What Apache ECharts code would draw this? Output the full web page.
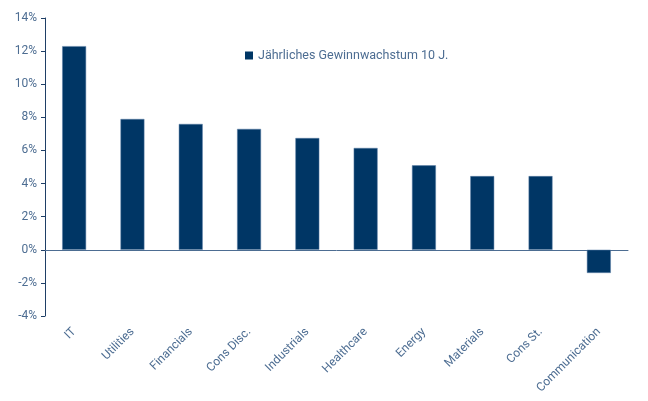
<!DOCTYPE html>
<html>
<head>
<meta charset="utf-8">
<script src="https://cdn.jsdelivr.net/npm/echarts@6/dist/echarts.min.js"></script>
<style>html,body{margin:0;padding:0;background:#fff}#c{width:648px;height:401px}</style>
</head>
<body>
<div id="c"></div>
<script>
var categories = ['IT','Utilities','Financials','Cons Disc.','Industrials','Healthcare','Energy','Materials','Cons St.','Communication'];
var growth = [12.3, 7.9, 7.6, 7.3, 6.75, 6.15, 5.1, 4.45, 4.45, -1.4];
var seriesName = 'Jährliches Gewinnwachstum 10 J.';
var textColor = '#4d6d92';
var chart = echarts.init(document.getElementById('c'));
chart.setOption({
  animation: false,
  textStyle: {fontFamily: 'Roboto', color: textColor},
  legend: {
    left: 240, top: 44, itemWidth: 8, itemHeight: 8, itemGap: 4,
    icon: 'rect',
    itemStyle: {borderWidth: 0},
    textStyle: {color: textColor, fontSize: 12.5, fontFamily: 'Roboto'},
    data: [seriesName]
  },
  grid: {left: 45, right: 20, top: 18, bottom: 85, containLabel: false},
  xAxis: {
    type: 'category', data: categories,
    axisLine: {lineStyle: {color: '#4d6d92', width: 1}},
    axisTick: {interval: 2, length: 4, lineStyle: {color: '#1f3f66'}},
    axisLabel: {rotate: 45, color: textColor, fontSize: 12, margin: 14, interval: 0}
  },
  yAxis: {
    type: 'value', min: -4, max: 14, interval: 2,
    axisLine: {show: true, lineStyle: {color: '#1f3f66'}},
    axisTick: {show: true, inside: false, length: 4, lineStyle: {color: '#1f3f66'}},
    splitLine: {show: false},
    axisLabel: {formatter: '{value}%', color: textColor, fontSize: 12, margin: 8}
  },
  series: [{
    name: seriesName, type: 'bar', data: growth, barWidth: '41%',
    itemStyle: {color: '#003665', borderColor: '#5a7ea6', borderWidth: 0.5}
  }]
});
</script>
</body>
</html>
